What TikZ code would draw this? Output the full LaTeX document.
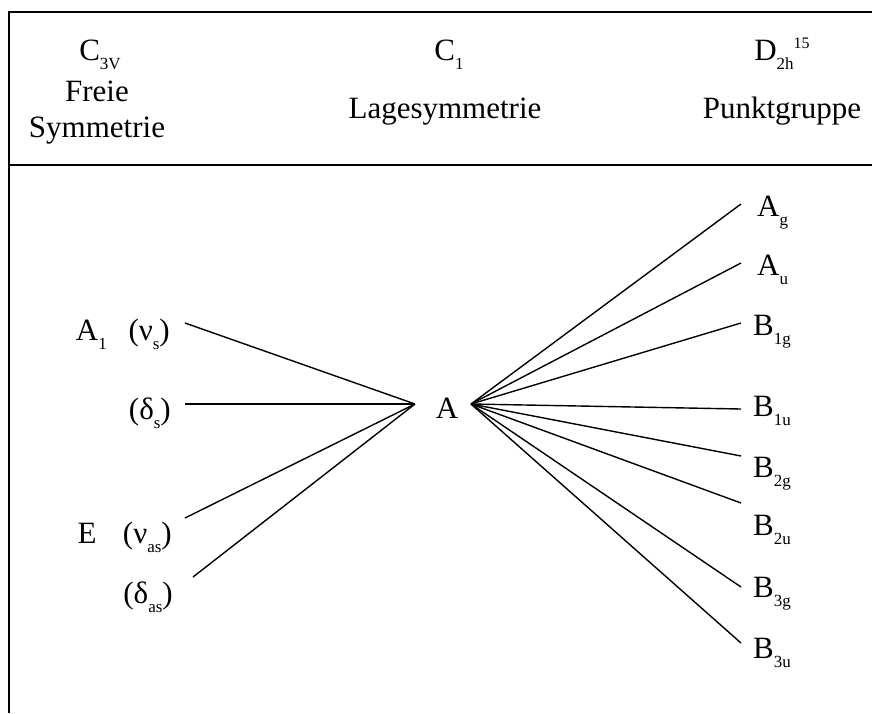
\documentclass[tikz,border=0pt]{standalone}
\usepackage{fontspec}
\setmainfont{Liberation Serif}
\newcommand\lowsub[1]{\raisebox{-0.3em}{\fontsize{17}{17}\selectfont #1}}
\newcommand\highsup[1]{\raisebox{0.36em}{\fontsize{16}{16}\selectfont #1}}
\begin{document}
\begin{tikzpicture}[x=1pt,y=-1pt,
  every node/.style={inner sep=0pt, font=\fontsize{31}{36}\selectfont},
  frameline/.style={line width=1.8pt},
  link/.style={line width=1.4pt}]
\useasboundingbox (0,0) rectangle (872,713);
% frame
\draw[frameline] (872,12) -- (9,12) -- (9,713);
\draw[frameline] (9,165) -- (872,165);
% header
\node[anchor=base] (h1a) at (100,60) {C\lowsub{3V}};
\node[anchor=base] (h1b) at (97,101) {Freie};
\node[anchor=base] (h1c) at (97,137) {Symmetrie};
\node[anchor=base] (h2a) at (449,60) {C\lowsub{1}};
\node[anchor=base] (h2b) at (445,118) {Lagesymmetrie};
\node[anchor=base] (h3a) at (782,60) {D\lowsub{2h}\highsup{15}};
\node[anchor=base] (h3b) at (782,118) {Punktgruppe};
% left labels
\node[anchor=base east] (a1) at (170,340) {A\lowsub{1}\hspace{0.7em}(ν\lowsub{s})};
\node[anchor=base east] (ds) at (171,419) {(δ\lowsub{s})};
\node[anchor=base east] (ee) at (172,543) {E\hspace{0.85em}(ν\lowsub{as})};
\node[anchor=base east] (das) at (173,603) {(δ\lowsub{as})};
% centre
\node[anchor=base] (A) at (447,418) {A};
% right labels
\node[anchor=base west] (ag) at (757,216) {A\lowsub{g}};
\node[anchor=base west] (au) at (757,275) {A\lowsub{u}};
\node[anchor=base west] (b1g) at (753,335) {B\lowsub{1g}};
\node[anchor=base west] (b1u) at (753,416) {B\lowsub{1u}};
\node[anchor=base west] (b2g) at (753,477) {B\lowsub{2g}};
\node[anchor=base west] (b2u) at (753,535) {B\lowsub{2u}};
\node[anchor=base west] (b3g) at (753,597) {B\lowsub{3g}};
\node[anchor=base west] (b3u) at (753,658) {B\lowsub{3u}};
% connector ends
\coordinate (L) at (415,404);
\coordinate (R) at (471,404);
\coordinate (pa1) at (185,323);
\coordinate (pds) at (185,404);
\coordinate (pee) at (185,518);
\coordinate (pdas) at (193,577);
\coordinate (pag) at (741,204);
\coordinate (pau) at (741,263);
\coordinate (pb1g) at (741,323);
\coordinate (pb1u) at (741,409);
\coordinate (pb2g) at (741,456);
\coordinate (pb2u) at (741,503);
\coordinate (pb3g) at (741,587);
\coordinate (pb3u) at (741,643);
% connectors
\foreach \p in {pa1,pds,pee,pdas} \draw[link] (\p) -- (L);
\foreach \p in {pag,pau,pb1g,pb1u,pb2g,pb2u,pb3g,pb3u} \draw[link] (R) -- (\p);
\end{tikzpicture}
\end{document}
